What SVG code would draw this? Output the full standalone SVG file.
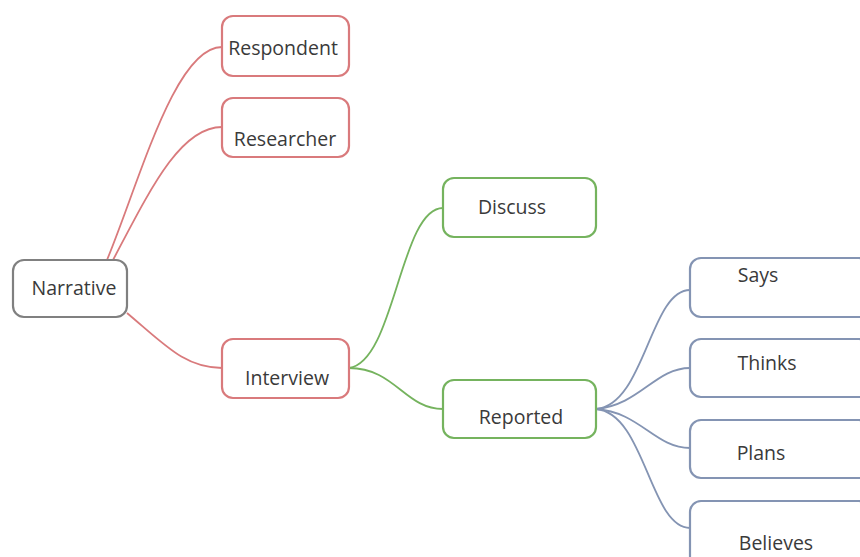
<svg xmlns="http://www.w3.org/2000/svg" width="860" height="557" viewBox="0 0 860 557">
<style>
  .box{fill:#fff;stroke-width:2.2}
  .red{stroke:#d97a7c}
  .green{stroke:#75b35e}
  .blue{stroke:#8494b3}
  .gray{stroke:#808080}
  .lbl{font-family:"Open Sans",Lato,sans-serif;font-size:19.5px;fill:#3a3a3a;text-anchor:middle}
  .c{fill:none;stroke-width:1.8}
</style>
<rect width="860" height="557" fill="#fff"/>
<g id="connectors">
  <path class="c red" d="M107,260 C140,180 175,47 222,47"/>
  <path class="c red" d="M113,260 C150,190 180,127 222,127"/>
  <path class="c red" d="M127,313 C165,345 185,368 222,368"/>
  <path class="c green" d="M349,368 C395,362 400,208 443,208"/>
  <path class="c green" d="M349,368 C395,368 405,409 443,409"/>
  <path class="c blue" d="M596,409 C645,405 650,290 690,290"/>
  <path class="c blue" d="M596,409 C640,405 655,368 690,368"/>
  <path class="c blue" d="M596,409 C640,412 655,448 690,448"/>
  <path class="c blue" d="M596,409 C645,413 650,528 690,528"/>
</g>
<g id="narrative"><rect class="box gray" x="13" y="260" width="114" height="57" rx="11"/><text class="lbl" x="74" y="295">Narrative</text></g>
<g id="respondent"><rect class="box red" x="222" y="16" width="127" height="60" rx="11"/><text class="lbl" x="283" y="55">Respondent</text></g>
<g id="researcher"><rect class="box red" x="222" y="98" width="127" height="59" rx="11"/><text class="lbl" x="285" y="146">Researcher</text></g>
<g id="interview"><rect class="box red" x="222" y="339" width="127" height="59" rx="11"/><text class="lbl" x="287" y="385">Interview</text></g>
<g id="discuss"><rect class="box green" x="443" y="178" width="153" height="59" rx="11"/><text class="lbl" x="512" y="214">Discuss</text></g>
<g id="reported"><rect class="box green" x="443" y="380" width="153" height="58" rx="11"/><text class="lbl" x="521" y="424">Reported</text></g>
<g id="says"><rect class="box blue" x="690" y="258" width="180" height="59" rx="11"/><text class="lbl" x="758" y="282">Says</text></g>
<g id="thinks"><rect class="box blue" x="690" y="339" width="180" height="58" rx="11"/><text class="lbl" x="767" y="370">Thinks</text></g>
<g id="plans"><rect class="box blue" x="690" y="420" width="180" height="58" rx="11"/><text class="lbl" x="761" y="460">Plans</text></g>
<g id="believes"><rect class="box blue" x="690" y="501" width="180" height="70" rx="11"/><text class="lbl" x="776" y="550">Believes</text></g>
</svg>
